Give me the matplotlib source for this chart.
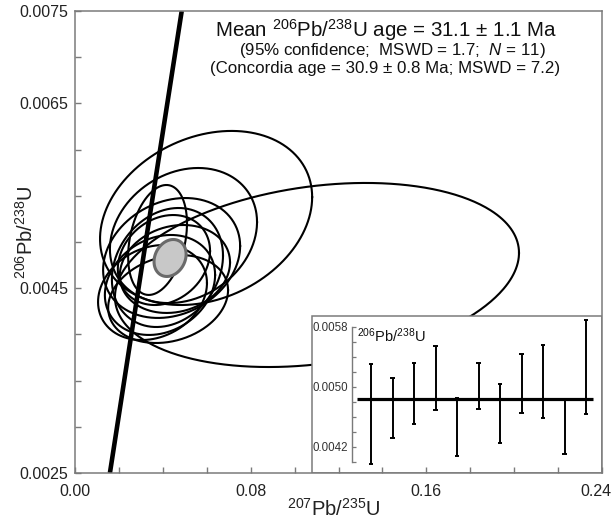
import numpy as np
import matplotlib
matplotlib.use("Agg")
import matplotlib.pyplot as plt
from matplotlib.patches import Rectangle
from matplotlib.ticker import FixedLocator, MultipleLocator
import matplotlib.transforms as mtransforms

plt.rcParams['font.family'] = ['Liberation Sans', 'DejaVu Sans']
plt.rcParams['mathtext.fontset'] = 'custom'
plt.rcParams['mathtext.rm'] = 'Liberation Sans'
plt.rcParams['mathtext.it'] = 'Liberation Sans:italic'

# ---- data: concordia ellipses (207Pb/235U, 2s, 206Pb/238U, 2s, rho) ----
r75 = [0.1102, 0.0597, 0.0494, 0.0376, 0.0440, 0.0421, 0.0353, 0.0387, 0.0455, 0.0405, 0.0424]
r75_err = [0.0920, 0.0483, 0.0335, 0.0134, 0.0312, 0.0253, 0.0248, 0.0251, 0.0251, 0.0210, 0.0273]
r68 = [0.004643, 0.005260, 0.005070, 0.005022, 0.004827, 0.004724, 0.004453, 0.004535, 0.004708, 0.004805, 0.004383]
r68_err = [0.000996, 0.000942, 0.000731, 0.000595, 0.000649, 0.000644, 0.000514, 0.000541, 0.000476, 0.000487, 0.000476]
rho = [0.24, 0.24, 0.20, 0.30, 0.20, 0.20, 0.20, 0.20, 0.15, 0.20, 0.20]

# concordia age ellipse
conc_ell = (0.0433, 0.0073, 0.004827, 0.000200, 0.20)

# concordia curve
concordia_x = [0.0159, 0.0322, 0.0486]
concordia_y = [0.0025, 0.0050, 0.0075]

# inset: weighted mean 206Pb/238U ratios
bar_top = [0.005303, 0.005116, 0.005316, 0.005547, 0.004849, 0.005316, 0.005040, 0.005436, 0.005560, 0.004827, 0.005893]
bar_bot = [0.003973, 0.004324, 0.004507, 0.004693, 0.004080, 0.004707, 0.004249, 0.004657, 0.004587, 0.004107, 0.004640]
mean_ratio = 0.004836

x_major = [0.00, 0.08, 0.16, 0.24]
y_major = [0.0025, 0.0045, 0.0065, 0.0075]
inset_y_major = [0.0042, 0.0050, 0.0058]

title1 = r"Mean $^{206}$Pb/$^{238}$U age = 31.1 $\pm$ 1.1 Ma"
title2 = r"(95% confidence;  MSWD = 1.7;  $N$ = 11)"
title3 = "(Concordia age = 30.9 \u00b1 0.8 Ma; MSWD = 7.2)"

GRAY = '#7a7a7a'

fig = plt.figure(figsize=(6.12, 5.23), dpi=100)
ax = fig.add_axes([75/612, 50/523, 527/612, 462/523])
ax.set_xlim(0, 0.24)
ax.set_ylim(0.0025, 0.0075)

t = np.linspace(0, 2*np.pi, 400)
def ell(x, sx, y, sy, r):
    ex = x + sx*np.cos(t)
    ey = y + sy*(r*np.cos(t) + np.sqrt(1-r*r)*np.sin(t))
    return ex, ey

for i in range(len(r75)):
    ex, ey = ell(r75[i], r75_err[i], r68[i], r68_err[i], rho[i])
    ax.plot(ex, ey, color='black', lw=1.5, zorder=2)

ex, ey = ell(*conc_ell)
ax.fill(ex, ey, facecolor='#c8c8c8', edgecolor='#6a6a6a', lw=2.2, zorder=2.1)

ax.plot(concordia_x, concordia_y, color='black', lw=3.3, zorder=2.15, solid_capstyle='butt')

# white inset background
ax.add_patch(Rectangle((237/527, 0), 1-237/527, 157/462, transform=ax.transAxes,
                       facecolor='white', edgecolor=GRAY, lw=1.1, zorder=2.3))

for s in ax.spines.values():
    s.set_color(GRAY)
    s.set_linewidth(1.1)
    s.set_zorder(3)

ax.xaxis.set_major_locator(FixedLocator(x_major))
ax.xaxis.set_minor_locator(MultipleLocator(0.02))
ax.yaxis.set_major_locator(FixedLocator(y_major))
ax.yaxis.set_minor_locator(MultipleLocator(0.0005))
ax.set_xticklabels([f"{v:.2f}" for v in x_major])
ax.set_yticklabels([f"{v:.4f}" for v in y_major])
ax.tick_params(which='both', direction='in', length=4, width=1.0, color=GRAY,
               labelsize=11.5, labelcolor='#222222')
ax.tick_params(axis='x', pad=8)
ax.tick_params(axis='y', pad=5)
ax.set_axisbelow(False)
lbl = ax.get_xticklabels()[-1]
lbl.set_transform(lbl.get_transform() + mtransforms.ScaledTranslation(-6/100, 0, fig.dpi_scale_trans))

ax.set_xlabel(r"$^{207}$Pb/$^{235}$U", fontsize=14.5, color='#222222', va='center')
ax.xaxis.set_label_coords((334-75)/527, (473-509)/462)
ax.set_ylabel(r"$^{206}$Pb/$^{238}$U", fontsize=14.5, color='#222222', va='center')
ax.yaxis.set_label_coords((26-75)/527, (473-232)/462)

fig.text(386/612, 1-30/523, title1, fontsize=14.8, ha='center', va='center', color='#111111')
fig.text(392/612, 1-51/523, title2, fontsize=12.2, ha='center', va='center', color='#111111')
fig.text(385/612, 1-68/523, title3, fontsize=12.2, ha='center', va='center', color='#111111')

# inset axes
iax = fig.add_axes([352/612, 53/523, 245/612, 152/523])
iax.patch.set_alpha(0)
iax.set_xlim(0.116, 11.51)
iax.set_ylim(0.003893, 0.00592)
xs = np.arange(1, len(bar_top)+1)
iax.vlines(xs, bar_bot, bar_top, color='black', lw=1.4)
iax.hlines(bar_top, xs-0.1, xs+0.1, color='black', lw=1.4)
iax.hlines(bar_bot, xs-0.1, xs+0.1, color='black', lw=1.4)
iax.hlines(mean_ratio, 0.35, 11.33, color='black', lw=2.3)
for k in ['top', 'right', 'bottom']:
    iax.spines[k].set_visible(False)
iax.spines['left'].set_bounds(0.0040, 0.0058)
iax.spines['left'].set_color(GRAY)
iax.spines['left'].set_linewidth(1.0)
iax.set_xticks([])
iax.yaxis.set_major_locator(FixedLocator(inset_y_major))
iax.yaxis.set_minor_locator(MultipleLocator(0.0002))
iax.set_yticklabels([f"{v:.4f}" for v in inset_y_major])
iax.tick_params(which='both', direction='in', length=3, width=0.9, color=GRAY,
                labelsize=8.3, labelcolor='#333333', pad=3)
iax.text(0.02, 0.885, r"$^{206}$Pb/$^{238}$U", transform=iax.transAxes,
         fontsize=10.5, ha='left', va='center', color='#111111')

fig.savefig("out.png", dpi=100)
